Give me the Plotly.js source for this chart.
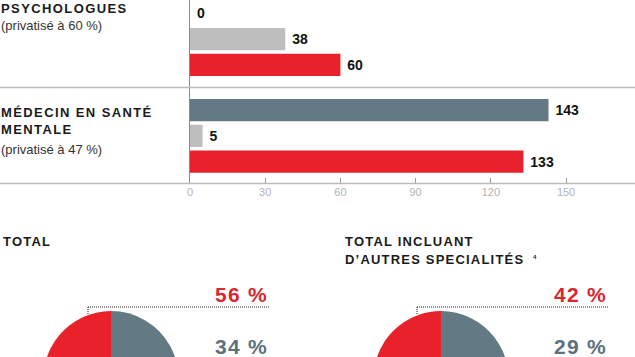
<!DOCTYPE html>
<html><head><meta charset="utf-8">
<script src="https://cdn.plot.ly/plotly-3.0.1.min.js"></script>
<style>
html,body{margin:0;padding:0;background:#fff;overflow:hidden;}
#wrap{width:635px;height:357px;overflow:hidden;position:relative;}
#chart{width:635px;height:460px;}
</style>
</head><body><div id="wrap"><div id="chart"></div></div>
<script>
// ---- data ----
const categories = ["PSYCHOLOGUES", "MÉDECIN EN SANTÉ MENTALE"];
const categoryTitleLines = [["PSYCHOLOGUES"], ["MÉDECIN EN SANTÉ", "MENTALE"]];
const categoryNotes = ["(privatisé à 60 %)", "(privatisé à 47 %)"];
const seriesNames = ["Série 1", "Série 2", "Série 3"];
const series1 = [0, 143];
const series2 = [38, 5];
const series3 = [60, 133];
const xTickVals = [0, 30, 60, 90, 120, 150];
const xTickText = ["0", "30", "60", "90", "120", "150"];
const pieLabels = ["Part gris", "Part rouge", "Autre"];
const pieTotal = [34, 56, 10];
const pieTotalAutres = [29, 42, 29];
const pieTitles = [["TOTAL"], ["TOTAL INCLUANT", "D’AUTRES SPECIALITÉS"]];
const pieFootnote = "4";
const pieRedLabels = ["56 %", "42 %"];
const pieGrayLabels = ["34 %", "29 %"];

// ---- layout helpers ----
const W = 635, H = 460;
const px = x => x / W;
const py = y => 1 - y / H;

const RED = "#e8212b", SLATE = "#637a84", LIGHT = "#bebebe";
const FONT = "Liberation Sans, Arial, sans-serif";
const sp = (t, ls) => `<span style="letter-spacing:${ls}px">${t}</span>`;

const barCommon = {
  type: "bar", orientation: "h", y: categories,
  textposition: "outside", cliponaxis: false,
  textfont: {family: FONT, size: 14, color: "#111", weight: 700},
  hoverinfo: "skip"
};
const pieCommon = {
  type: "pie", labels: pieLabels, sort: false, direction: "counterclockwise", rotation: 0,
  textinfo: "none", hoverinfo: "skip", marker: {colors: [SLATE, RED, LIGHT], line: {width: 0}}
};
const traces = [
  Object.assign({}, barCommon, {name: seriesNames[0], x: series1, text: series1.map(v => " " + v), marker: {color: SLATE}}),
  Object.assign({}, barCommon, {name: seriesNames[1], x: series2, text: series2.map(v => " " + v), marker: {color: LIGHT}}),
  Object.assign({}, barCommon, {name: seriesNames[2], x: series3, text: series3.map(v => " " + v), marker: {color: RED}}),
  Object.assign({}, pieCommon, {values: pieTotal,
   domain: {x: [px(111 - 67.5), px(111 + 67.5)], y: [py(446), py(311)]}}),
  Object.assign({}, pieCommon, {values: pieTotalAutres,
   domain: {x: [px(441 - 67.5), px(441 + 67.5)], y: [py(446), py(311)]}})
];

const annotations = [];
const ann = (text, x, y, opts) => annotations.push(Object.assign({
  text, x: px(x), y: py(y), xref: "paper", yref: "paper", showarrow: false,
  xanchor: "left", yanchor: "middle", align: "left"
}, opts));

// category labels
const titleY = [[8.5], [112, 129.3]];
const noteY = [25.8, 149];
const TF = {family: FONT, size: 13, color: "#1a1a1a", weight: 700};
categoryTitleLines.forEach((lines, i) => {
  lines.forEach((l, j) => ann(sp(l, 1.4), -1.5, titleY[i][j], {font: TF}));
  ann(categoryNotes[i], -1.5, noteY[i], {font: {family: FONT, size: 13, color: "#333"}});
});
// pie titles
ann(sp(pieTitles[0][0], 1.2), 0.5, 242, {font: TF});
ann(sp(pieTitles[1][0], 1.2), 342.5, 241.5, {font: TF});
ann(sp(pieTitles[1][1], 1.2), 342.5, 259.5, {font: TF});
ann(pieFootnote, 530.5, 256.5, {font: {family: FONT, size: 6, color: "#1a1a1a", weight: 700}});
// percentages
const pctX = [269.5, 608.5];
pctX.forEach((x, i) => {
  ann(sp(pieRedLabels[i], 1.3), x, 294.5, {xanchor: "right", align: "right", font: {family: FONT, size: 21, color: "#d9272f", weight: 700}});
  ann(sp(pieGrayLabels[i], 1.3), x, 346.5, {xanchor: "right", align: "right", font: {family: FONT, size: 21, color: "#5b717b", weight: 700}});
});

const dot = {color: "#222", width: 1, dash: "1px,1px"};
const shapes = [
  {type: "line", xref: "paper", yref: "y", x0: 0, x1: 1, y0: 0.5, y1: 0.5, line: {color: "#bcbcbc", width: 1.5}},
  {type: "line", xref: "paper", yref: "paper", x0: 0, x1: 1, y0: py(183.5), y1: py(183.5), line: {color: "#bcbcbc", width: 1.5}},
  {type: "line", xref: "paper", yref: "paper", x0: px(88), x1: px(270), y0: py(307), y1: py(307), line: dot},
  {type: "line", xref: "paper", yref: "paper", x0: px(88), x1: px(88), y0: py(307), y1: py(315), line: dot},
  {type: "line", xref: "paper", yref: "paper", x0: px(417), x1: px(609), y0: py(307), y1: py(307), line: dot},
  {type: "line", xref: "paper", yref: "paper", x0: px(417), x1: px(417), y0: py(307), y1: py(315), line: dot}
];

const layout = {
  width: W, height: H, margin: {l: 0, r: 0, t: 0, b: 0},
  paper_bgcolor: "#fff", plot_bgcolor: "rgba(0,0,0,0)",
  showlegend: false, barmode: "group", bargap: 0.2, bargroupgap: 0.14,
  font: {family: FONT},
  xaxis: {domain: [px(190), 1], range: [0, 177.5], tickvals: xTickVals, ticktext: xTickText,
          ticks: "inside", ticklen: 6, tickcolor: "#9a9a9a", tickwidth: 1,
          showgrid: false, zeroline: false, showline: false, fixedrange: true,
          tickfont: {family: FONT, size: 11, color: "#b3b3b3"}, anchor: "y"},
  yaxis: {domain: [py(183.5), 1], range: [1.492, -0.404], showticklabels: false, ticks: "",
          showgrid: false, zeroline: false, showline: true, linecolor: "#8a8a8a", linewidth: 1,
          fixedrange: true, anchor: "x"},
  annotations, shapes
};

Plotly.newPlot("chart", traces, layout, {staticPlot: true, displayModeBar: false});
</script>
</body></html>
